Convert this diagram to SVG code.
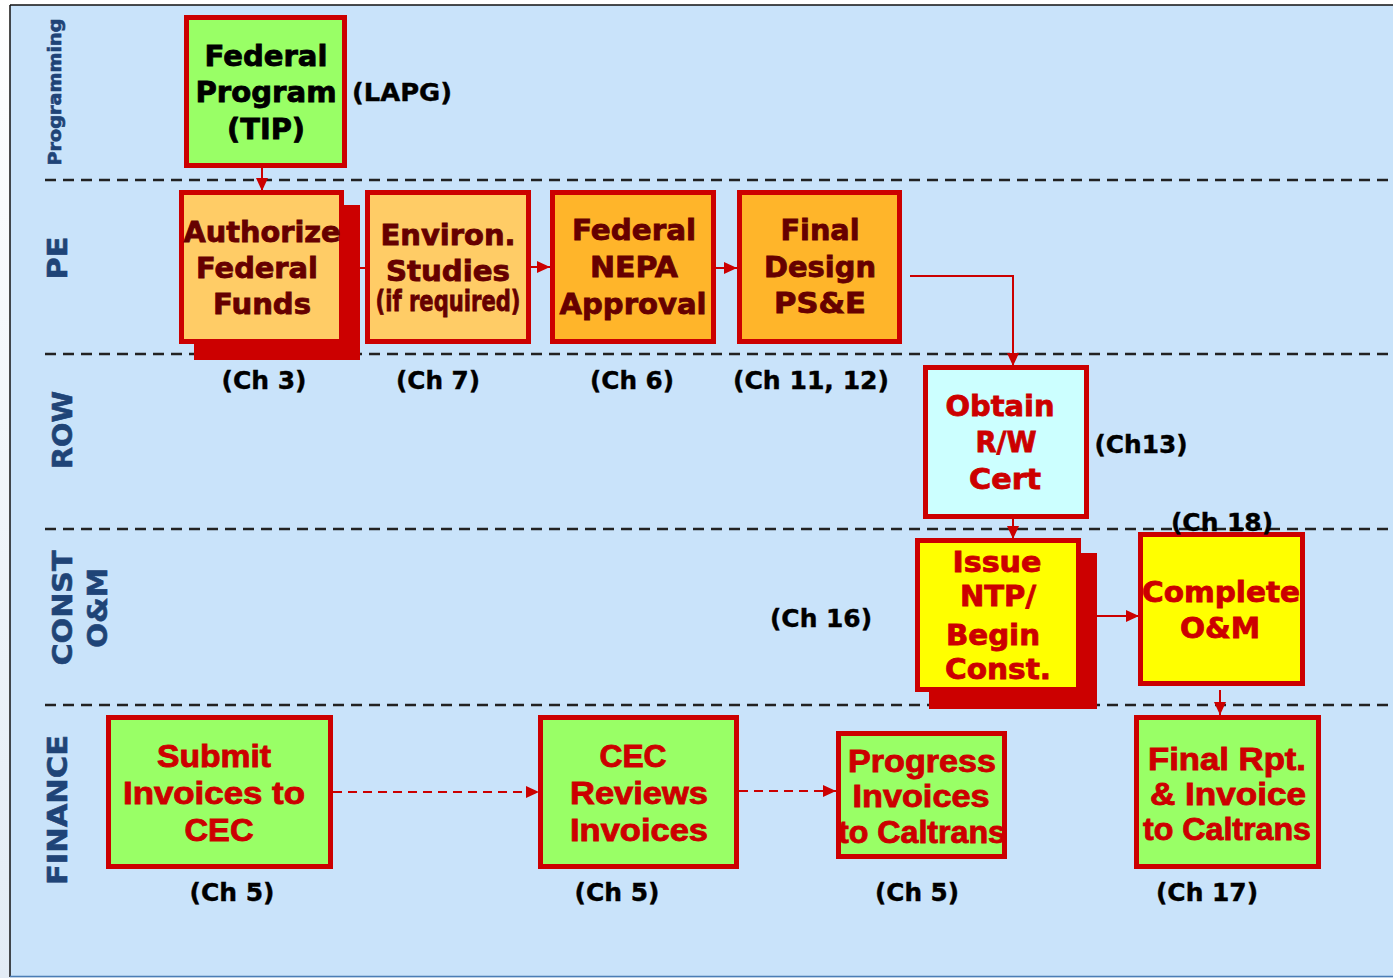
<svg xmlns="http://www.w3.org/2000/svg" width="1393" height="978" viewBox="0 0 1393 978">
<defs>
<linearGradient id="strip" x1="0" y1="0" x2="0" y2="1">
<stop offset="0" stop-color="#FFFFFF"/>
<stop offset="1" stop-color="#E3ECF5"/>
</linearGradient>
<marker id="ah" markerUnits="userSpaceOnUse" markerWidth="14" markerHeight="12" refX="13" refY="6" orient="auto">
<path d="M0,0 L13,6 L0,12 Z" fill="#CC0000"/>
</marker>
</defs>
<style>
.lane{fill:#1F4477;stroke:#1F4477;stroke-width:0.6;font-family:"DejaVu Sans",sans-serif;font-weight:bold;text-anchor:middle}
.bx{stroke:#CC0000;stroke-width:5}
.shadow{fill:#CC0000}
.t{font-family:"DejaVu Sans",sans-serif;font-weight:bold;text-anchor:middle;font-size:28px;stroke-width:0.8}
.dk{fill:#660000;stroke:#660000}
.rd{fill:#CC0000;stroke:#CC0000}
.bk{fill:#000000;stroke:#000000}
.ft{font-family:"Liberation Sans",Arial,sans-serif;font-weight:bold;text-anchor:middle;font-size:32px;fill:#CC0000;stroke:#CC0000;stroke-width:0.9}
.ch{font-family:"DejaVu Sans",sans-serif;font-weight:bold;text-anchor:middle;font-size:24px;fill:#000;stroke:#000;stroke-width:0.4}
.dash{stroke:#222;stroke-width:2.5;stroke-dasharray:11 7;fill:none}
.con{stroke:#CC0000;stroke-width:2;fill:none}
.cond{stroke:#CC0000;stroke-width:2;fill:none;stroke-dasharray:9 6}
</style>
<rect x="0" y="0" width="1393" height="978" fill="url(#strip)"/>
<rect x="10" y="5" width="1390" height="971" fill="#C9E3FA"/>
<line x1="10" y1="5" x2="1393" y2="5" stroke="#111" stroke-width="1.5"/>
<line x1="10" y1="5" x2="10" y2="977" stroke="#111" stroke-width="1.5"/>
<line x1="10" y1="976.5" x2="1393" y2="976.5" stroke="#4A7DB5" stroke-width="1.5"/>

<g id="lanes">
<line class="dash" x1="45" y1="180" x2="1393" y2="180"/>
<line class="dash" x1="45" y1="354" x2="1393" y2="354"/>
<line class="dash" x1="45" y1="529" x2="1393" y2="529"/>
<line class="dash" x1="45" y1="705" x2="1393" y2="705"/>
<text class="lane" transform="translate(61,92) rotate(-90)" font-size="17" textLength="147" lengthAdjust="spacingAndGlyphs">Programming</text>
<text class="lane" transform="translate(67,258) rotate(-90)" font-size="26" textLength="43" lengthAdjust="spacingAndGlyphs">PE</text>
<text class="lane" transform="translate(72,430) rotate(-90)" font-size="26" textLength="78" lengthAdjust="spacingAndGlyphs">ROW</text>
<text class="lane" transform="translate(72,608) rotate(-90)" font-size="26" textLength="115" lengthAdjust="spacingAndGlyphs">CONST</text>
<text class="lane" transform="translate(107,608) rotate(-90)" font-size="26" textLength="80" lengthAdjust="spacingAndGlyphs">O&amp;M</text>
<text class="lane" transform="translate(67,810) rotate(-90)" font-size="26" textLength="150" lengthAdjust="spacingAndGlyphs">FINANCE</text>
</g>

<g id="connectors">
<line class="con" x1="262" y1="167" x2="262" y2="191" marker-end="url(#ah)"/>
<line class="con" x1="343" y1="268" x2="366" y2="268"/>
<line class="con" x1="529" y1="267" x2="550" y2="267" marker-end="url(#ah)"/>
<line class="con" x1="715" y1="268" x2="737" y2="268" marker-end="url(#ah)"/>
<polyline class="con" points="910,276 1013,276 1013,366" marker-end="url(#ah)"/>
<line class="con" x1="1013" y1="518" x2="1013" y2="539" marker-end="url(#ah)"/>
<line class="con" x1="1097" y1="616" x2="1139" y2="616" marker-end="url(#ah)"/>
<line class="con" x1="1220" y1="690" x2="1220" y2="715" marker-end="url(#ah)"/>
<line class="cond" x1="333" y1="792" x2="539" y2="792" marker-end="url(#ah)"/>
<line class="cond" x1="739" y1="791" x2="836" y2="791" marker-end="url(#ah)"/>
</g>

<g id="federal-program">
<rect class="bx" x="186.5" y="17.5" width="158" height="148" fill="#99FF66"/>
<text class="t bk" x="266" y="66" font-size="27" textLength="123" lengthAdjust="spacingAndGlyphs">Federal</text>
<text class="t bk" x="266" y="102" font-size="27" textLength="141" lengthAdjust="spacingAndGlyphs">Program</text>
<text class="t bk" x="266" y="139" font-size="27" textLength="78" lengthAdjust="spacingAndGlyphs">(TIP)</text>
<text class="ch" x="402" y="101" textLength="100" lengthAdjust="spacingAndGlyphs">(LAPG)</text>
</g>

<g id="authorize">
<rect class="shadow" x="194" y="205" width="166" height="155"/>
<rect class="bx" x="181.5" y="192.5" width="160" height="149" fill="#FFCC66"/>
<text class="t dk" x="262" y="242" textLength="157" lengthAdjust="spacingAndGlyphs">Authorize</text>
<text class="t dk" x="257" y="278" textLength="122" lengthAdjust="spacingAndGlyphs">Federal</text>
<text class="t dk" x="262" y="314" textLength="98" lengthAdjust="spacingAndGlyphs">Funds</text>
<text class="ch" x="264" y="389" textLength="85" lengthAdjust="spacingAndGlyphs">(Ch 3)</text>
</g>

<g id="environ">
<rect class="bx" x="367.5" y="192.5" width="161" height="149" fill="#FFCC66"/>
<text class="t dk" x="448" y="245" textLength="135" lengthAdjust="spacingAndGlyphs">Environ.</text>
<text class="t dk" x="448" y="281" textLength="124" lengthAdjust="spacingAndGlyphs">Studies</text>
<text class="t dk" x="448" y="311" font-size="18" textLength="145" lengthAdjust="spacingAndGlyphs">(if required)</text>
<text class="ch" x="438" y="389" textLength="84" lengthAdjust="spacingAndGlyphs">(Ch 7)</text>
</g>

<g id="nepa">
<rect class="bx" x="552.5" y="192.5" width="161" height="149" fill="#FFB52A"/>
<text class="t dk" x="634" y="240" textLength="124" lengthAdjust="spacingAndGlyphs">Federal</text>
<text class="t dk" x="634" y="277" textLength="88" lengthAdjust="spacingAndGlyphs">NEPA</text>
<text class="t dk" x="633" y="314" textLength="147" lengthAdjust="spacingAndGlyphs">Approval</text>
<text class="ch" x="632" y="389" textLength="84" lengthAdjust="spacingAndGlyphs">(Ch 6)</text>
</g>

<g id="final-design">
<rect class="bx" x="739.5" y="192.5" width="160" height="149" fill="#FFB52A"/>
<text class="t dk" x="820" y="240" textLength="79" lengthAdjust="spacingAndGlyphs">Final</text>
<text class="t dk" x="820" y="277" textLength="112" lengthAdjust="spacingAndGlyphs">Design</text>
<text class="t dk" x="820" y="313" textLength="92" lengthAdjust="spacingAndGlyphs">PS&amp;E</text>
<text class="ch" x="811" y="389" textLength="156" lengthAdjust="spacingAndGlyphs">(Ch 11, 12)</text>
</g>

<g id="rw-cert">
<rect class="bx" x="925.5" y="367.5" width="161" height="149" fill="#CCFFFF"/>
<text class="t rd" x="1000" y="416" textLength="109" lengthAdjust="spacingAndGlyphs">Obtain</text>
<text class="t rd" x="1006" y="452" textLength="61" lengthAdjust="spacingAndGlyphs">R/W</text>
<text class="t rd" x="1005" y="489" textLength="72" lengthAdjust="spacingAndGlyphs">Cert</text>
<text class="ch" x="1141" y="453" textLength="93" lengthAdjust="spacingAndGlyphs">(Ch13)</text>
</g>

<g id="issue-ntp">
<rect class="shadow" x="929" y="553" width="168" height="156"/>
<rect class="bx" x="917.5" y="540.5" width="161" height="149" fill="#FFFF00"/>
<text class="t rd" x="997" y="572" textLength="89" lengthAdjust="spacingAndGlyphs">Issue</text>
<text class="t rd" x="998" y="606" textLength="76" lengthAdjust="spacingAndGlyphs">NTP/</text>
<text class="t rd" x="993" y="645" textLength="94" lengthAdjust="spacingAndGlyphs">Begin</text>
<text class="t rd" x="998" y="679" textLength="106" lengthAdjust="spacingAndGlyphs">Const.</text>
<text class="ch" x="821" y="627" textLength="102" lengthAdjust="spacingAndGlyphs">(Ch 16)</text>
</g>

<g id="complete-om">
<rect class="bx" x="1140.5" y="534.5" width="162" height="149" fill="#FFFF00"/>
<text class="t rd" x="1221" y="602" textLength="158" lengthAdjust="spacingAndGlyphs">Complete</text>
<text class="t rd" x="1220" y="638" textLength="80" lengthAdjust="spacingAndGlyphs">O&amp;M</text>
<text class="ch" x="1222" y="531" textLength="102" lengthAdjust="spacingAndGlyphs">(Ch 18)</text>
</g>

<g id="submit-invoices">
<rect class="bx" x="108.5" y="717.5" width="222" height="149" fill="#99FF66"/>
<text class="ft" x="214" y="767" textLength="114" lengthAdjust="spacingAndGlyphs">Submit</text>
<text class="ft" x="214" y="804" textLength="182" lengthAdjust="spacingAndGlyphs">Invoices to</text>
<text class="ft" x="219" y="841" textLength="69" lengthAdjust="spacingAndGlyphs">CEC</text>
<text class="ch" x="232" y="901" textLength="85" lengthAdjust="spacingAndGlyphs">(Ch 5)</text>
</g>

<g id="cec-reviews">
<rect class="bx" x="540.5" y="717.5" width="196" height="149" fill="#99FF66"/>
<text class="ft" x="633" y="767" textLength="67" lengthAdjust="spacingAndGlyphs">CEC</text>
<text class="ft" x="639" y="804" textLength="138" lengthAdjust="spacingAndGlyphs">Reviews</text>
<text class="ft" x="639" y="841" textLength="138" lengthAdjust="spacingAndGlyphs">Invoices</text>
<text class="ch" x="617" y="901" textLength="85" lengthAdjust="spacingAndGlyphs">(Ch 5)</text>
</g>

<g id="progress-invoices">
<rect class="bx" x="838.5" y="733.5" width="166" height="123" fill="#99FF66"/>
<text class="ft" x="922" y="772" font-size="30" textLength="148" lengthAdjust="spacingAndGlyphs">Progress</text>
<text class="ft" x="921" y="807" font-size="30" textLength="137" lengthAdjust="spacingAndGlyphs">Invoices</text>
<text class="ft" x="922" y="843" font-size="30" textLength="168" lengthAdjust="spacingAndGlyphs">to Caltrans</text>
<text class="ch" x="917" y="901" textLength="84" lengthAdjust="spacingAndGlyphs">(Ch 5)</text>
</g>

<g id="final-rpt">
<rect class="bx" x="1136.5" y="717.5" width="182" height="149" fill="#99FF66"/>
<text class="ft" x="1227" y="770" font-size="30" textLength="158" lengthAdjust="spacingAndGlyphs">Final Rpt.</text>
<text class="ft" x="1228" y="805" font-size="30" textLength="156" lengthAdjust="spacingAndGlyphs">&amp; Invoice</text>
<text class="ft" x="1227" y="840" font-size="30" textLength="168" lengthAdjust="spacingAndGlyphs">to Caltrans</text>
<text class="ch" x="1207" y="901" textLength="102" lengthAdjust="spacingAndGlyphs">(Ch 17)</text>
</g>
</svg>
